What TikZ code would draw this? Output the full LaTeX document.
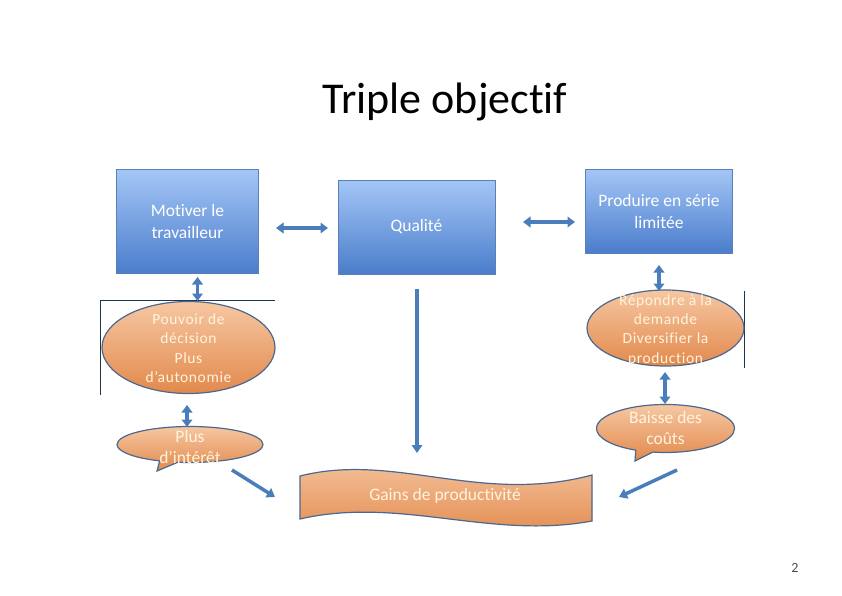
\documentclass[tikz,border=0pt]{standalone}
\usepackage{fontspec}
\setmainfont{Carlito}[Ligatures=NoCommon]
\usetikzlibrary{shapes.geometric,shapes.callouts,arrows.meta}
\definecolor{bluetop}{HTML}{A4C6F6}
\definecolor{bluebot}{HTML}{4A7DCB}
\definecolor{blueedge}{HTML}{5A80BA}
\definecolor{orangetop}{HTML}{F6C7A2}
\definecolor{orangebot}{HTML}{E2894C}
\definecolor{orangeedge}{HTML}{4B6891}
\definecolor{arrowblue}{HTML}{4A7EBB}
\definecolor{creamtext}{HTML}{FFF4DE}
\definecolor{frameblue}{HTML}{1F3550}
\tikzset{
 bluebox/.style={draw=blueedge, line width=1pt, top color=bluetop, bottom color=bluebot, text=white, align=center, inner sep=0pt, font=\fontsize{17.5}{22}\selectfont},
 orangeshape/.style={draw=orangeedge, line width=1.2pt, top color=orangetop, bottom color=orangebot, inner sep=0pt},
 otext/.style={text=creamtext, align=center, inner sep=0pt},
 link/.style={draw=arrowblue, line width=3.5pt, -{Triangle[width=10.5pt,length=8pt]}},
 dlink/.style={draw=arrowblue, line width=3.5pt, {Triangle[width=10.5pt,length=7.5pt]}-{Triangle[width=10.5pt,length=7.5pt]}},
 frameline/.style={draw=frameblue, line width=0.8pt},
 smalltext/.style={font=\fontsize{15.5}{19.4}\selectfont\addfontfeature{LetterSpace=4}},
 bigtext/.style={font=\fontsize{17.5}{21}\selectfont},
}
\begin{document}
\begin{tikzpicture}[x=1pt,y=-1pt]
\useasboundingbox[fill=white] (0,0) rectangle (842,596);

% title
\node[anchor=base, font=\fontsize{44}{50}\selectfont] (title) at (445,114) {Triple objectif};

% blue boxes
\node[bluebox, minimum width=142pt, minimum height=104pt] (motiver) at (187.5,221.5) {Motiver le\\travailleur};
\node[bluebox, minimum width=157pt, minimum height=94pt] (qualite) at (416.5,227) {Qualité};
\node[bluebox, minimum width=147pt, minimum height=84pt] (produire) at (659,211) {Produire en série\\limitée};

% frame lines
\coordinate (fl1) at (100,300);
\coordinate (fl2) at (275,300);
\coordinate (fl3) at (100,395);
\coordinate (fr1) at (744.5,291);
\coordinate (fr2) at (744.5,368);
\draw[frameline] (fl2) -- (fl1) -- (fl3);
\draw[frameline] (fr1) -- (fr2);

% ellipses
\node[orangeshape, ellipse, minimum width=173pt, minimum height=92pt] (pouvoir) at (188.5,347.5) {};
\node[otext, smalltext] (pouvoirtext) at (188.5,348) {Pouvoir de\\décision\\Plus\\d’autonomie};
\node[orangeshape, ellipse, minimum width=157pt, minimum height=76pt] (repondre) at (665.5,328) {};
\node[otext, smalltext] (repondretext) at (665.5,330) {Répondre à la\\demande\\Diversifier la\\production};

% callouts
\node[orangeshape, ellipse callout, minimum width=146pt, minimum height=36pt, callout absolute pointer={(157,471)}] (interet) at (190,444.5) {};
\node[otext, bigtext] (interettext) at (190,447) {Plus\\d’intérêt};
\node[orangeshape, ellipse callout, minimum width=138pt, minimum height=48pt, callout absolute pointer={(635,461)}] (baisse) at (665.5,428.5) {};
\node[otext, bigtext] (baissetext) at (665.5,428) {Baisse des\\coûts};

% wave banner
\path[orangeshape] (300,476) .. controls (395,452) and (480,505) .. (592,475)
  -- (592,521) .. controls (490,540) and (400,496) .. (300,519) -- cycle;
\node[otext, bigtext] (gains) at (445,496) {Gains de productivité};

% connectors
\coordinate (h1a) at (276,228);
\coordinate (h1b) at (328,228);
\coordinate (h2a) at (523,222);
\coordinate (h2b) at (575,222);
\draw[dlink] (h1a) -- (h1b);
\draw[dlink] (h2a) -- (h2b);

\coordinate (v1a) at (197.5,277);
\coordinate (v1b) at (197.5,301);
\draw[dlink] (v1a) -- (v1b);
\coordinate (v2a) at (659,265);
\coordinate (v2b) at (659,291);
\draw[dlink] (v2a) -- (v2b);
\coordinate (v3a) at (187,405);
\coordinate (v3b) at (187,427);
\draw[dlink] (v3a) -- (v3b);
\coordinate (v4a) at (665,372);
\coordinate (v4b) at (665,404);
\draw[dlink] (v4a) -- (v4b);

\coordinate (qdown) at (417,289);
\coordinate (gtop) at (417,453);
\draw[link] (qdown) -- (gtop);

\coordinate (ia) at (232,470);
\coordinate (ib) at (275,497);
\draw[link] (ia) -- (ib);
\coordinate (ba) at (677,470);
\coordinate (bb) at (619,497);
\draw[link] (ba) -- (bb);

% page number
\node[anchor=base, font=\fontsize{14}{16}\selectfont, text=black!70] (pagenum) at (795,572) {2};
\end{tikzpicture}
\end{document}
